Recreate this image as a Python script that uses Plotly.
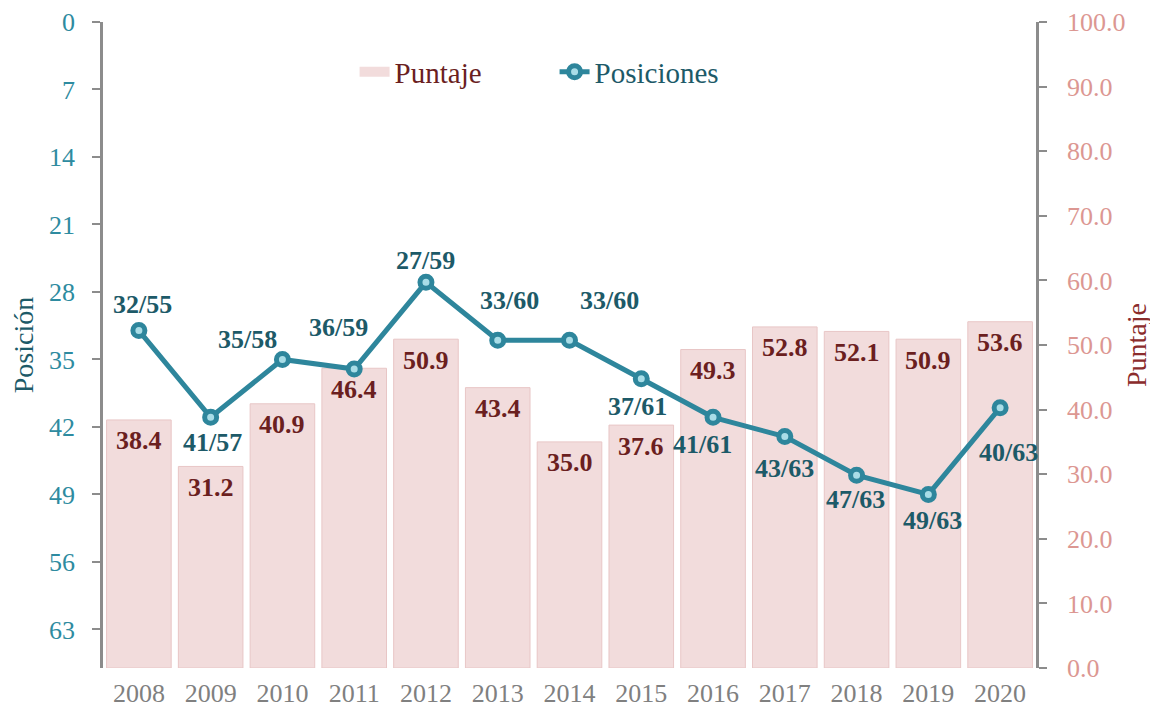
import plotly.graph_objects as go

years = ["2008", "2009", "2010", "2011", "2012", "2013", "2014",
         "2015", "2016", "2017", "2018", "2019", "2020"]
puntaje = [38.4, 31.2, 40.9, 46.4, 50.9, 43.4, 35.0, 37.6, 49.3, 52.8, 52.1, 50.9, 53.6]
posicion = [32, 41, 35, 36, 27, 33, 33, 37, 41, 43, 47, 49, 40]
total = [55, 57, 58, 59, 59, 60, 60, 61, 61, 63, 63, 63, 63]
pos_ticks = [0, 7, 14, 21, 28, 35, 42, 49, 56, 63]
score_ticks = [0, 10, 20, 30, 40, 50, 60, 70, 80, 90, 100]

# pixel offsets of the position labels relative to their markers
label_dx = [4, 2, -35, -16, 0, 12, 40, -4, -11, 0, -1, 4, 8]
label_dy = [-26, 25, -20, -42, -22, -40, -40, 28, 27, 32, 24, 26, 45]

FONT = "Liberation Serif"
BAR_COLOR = "#f2dcdc"
TEAL = "#2e869c"
DARK_TEAL = "#1d5a68"
DARK_RED = "#6b1f1f"

fig = go.Figure()

fig.add_trace(go.Bar(
    x=years, y=puntaje, name="Puntaje", showlegend=False,
    marker=dict(color=BAR_COLOR, line=dict(color="#e8c6c6", width=1)),
    xaxis="x", yaxis="y", hoverinfo="x+y",
))

# legend entry for the bars (wide swatch)
fig.add_trace(go.Scatter(
    x=[years[0]], y=[None], mode="lines", name=f"<span style='color:{DARK_RED}'>Puntaje</span>",
    line=dict(color=BAR_COLOR, width=16), xaxis="x", yaxis="y", showlegend=True,
    hoverinfo="skip",
))

fig.add_trace(go.Scatter(
    x=years, y=posicion, name=f"<span style='color:{DARK_TEAL}'>Posiciones</span>",
    mode="lines+markers",
    line=dict(color=TEAL, width=5),
    marker=dict(size=12, color="#a9dde7", line=dict(color=TEAL, width=5)),
    xaxis="x", yaxis="y2",
))

annotations = []
for i, v in enumerate(puntaje):
    annotations.append(dict(
        x=i, y=v, xref="x", yref="y", text=f"<b>{v:.1f}</b>", showarrow=False,
        yshift=-21, font=dict(family=FONT, size=26, color=DARK_RED),
    ))
for i, (p, t, dx, dy) in enumerate(zip(posicion, total, label_dx, label_dy)):
    annotations.append(dict(
        x=i, y=p, xref="x", yref="y2", text=f"<b>{p}/{t}</b>", showarrow=False,
        xshift=dx, yshift=-dy, font=dict(family=FONT, size=26, color=DARK_TEAL),
    ))

fig.update_layout(
    width=1150, height=708,
    margin=dict(l=95, r=122, t=14, b=48, autoexpand=False),
    paper_bgcolor="white", plot_bgcolor="white",
    font=dict(family=FONT, size=26, color="#808080"),
    bargap=0.1,
    showlegend=True,
    annotations=annotations,
    legend=dict(orientation="h", x=0.484, y=0.9226, xanchor="center", yanchor="middle",
                font=dict(family=FONT, size=29), bgcolor="rgba(0,0,0,0)",
                traceorder="normal", entrywidth=155),
    xaxis=dict(type="category", categoryorder="array", categoryarray=years,
               range=[-0.5, len(years) - 0.5],
               showline=False, ticks="", showgrid=False, automargin=False,
               ticklabelstandoff=7,
               tickfont=dict(family=FONT, size=26, color="#808080")),
    xaxis2=dict(overlaying="x", side="top", anchor="y", range=[-0.5, len(years) - 0.5],
                tickvals=[i - 0.5 for i in range(len(years) + 1)], showticklabels=False,
                ticks="outside", ticklen=8, tickcolor="#c0c0c0", tickwidth=2,
                showline=True, linecolor="#c0c0c0", linewidth=2, showgrid=False,
                zeroline=False, automargin=False),
    yaxis=dict(side="right", range=[0, 100], tickvals=score_ticks, tickformat=".1f",
               showline=True, linecolor="#8c8c8c", linewidth=2.5, ticks="outside",
               ticklen=8, tickcolor="#8c8c8c", tickwidth=2, showgrid=False, zeroline=False,
               automargin=False, ticklabelstandoff=15,
               tickfont=dict(family=FONT, size=26, color="#dc9792"),
               title=dict(text="Puntaje", font=dict(family=FONT, size=28, color="#8b2c2c"),
                          standoff=2)),
    yaxis2=dict(overlaying="y", side="left", range=[67, 0], tickvals=pos_ticks,
                showline=True, linecolor="#8c8c8c", linewidth=2.5, ticks="outside",
                ticklen=8, tickcolor="#8c8c8c", tickwidth=2, showgrid=False, zeroline=False,
                automargin=False, ticklabelstandoff=12,
                tickfont=dict(family=FONT, size=26, color="#2e8ba0"),
                title=dict(text="Posición", font=dict(family=FONT, size=28, color=DARK_TEAL),
                           standoff=14)),
)

fig.write_html("out.html")
